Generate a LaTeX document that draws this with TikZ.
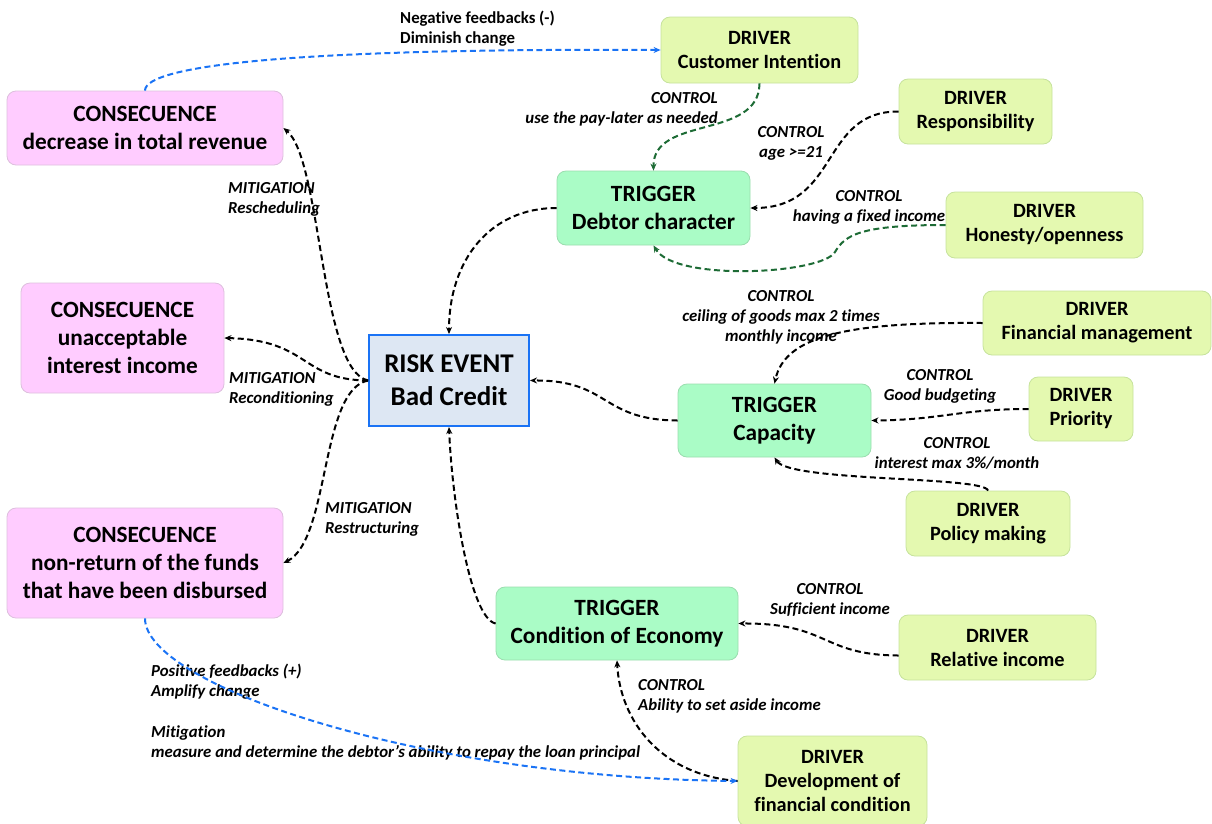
\documentclass[tikz,border=0pt]{standalone}
\usepackage{fontspec}
\setmainfont{Carlito}[Ligatures=NoCommon]
\usetikzlibrary{arrows.meta}

\definecolor{cnsfill}{HTML}{FFCCFF}
\definecolor{cnsline}{HTML}{DDBFDD}
\definecolor{trgfill}{HTML}{AAFCC6}
\definecolor{trgline}{HTML}{9ADDAE}
\definecolor{drvfill}{HTML}{E4F9B0}
\definecolor{drvline}{HTML}{C6E29C}
\definecolor{riskfill}{HTML}{DDE7F3}
\definecolor{riskline}{HTML}{1A73F5}
\definecolor{fbblue}{HTML}{1A73F5}
\definecolor{ctlgreen}{HTML}{1D6B35}

\begin{document}
\begin{tikzpicture}[x=1pt,y=-1pt]

      \tikzset{box/.style={draw, rounded corners=9pt, align=center, inner sep=2pt, line width=0.8pt, font=\bfseries\fontsize{20.3}{24}\selectfont},
               driver/.style={box, fill=drvfill, draw=drvline},
               trigger/.style={box, fill=trgfill, draw=trgline, font=\bfseries\fontsize{23.3}{28}\selectfont},
               conseq/.style={box, fill=cnsfill, draw=cnsline, font=\bfseries\fontsize{23.3}{28}\selectfont},
               riskbox/.style={draw=riskline, fill=riskfill, line width=2pt, align=center, font=\bfseries\fontsize{27}{33}\selectfont},
               note/.style={inner sep=0pt, font=\bfseries\itshape\fontsize{16.8}{20}\selectfont},
               flow/.style={line width=2pt, dash pattern=on 6pt off 3.5pt, -{Stealth[length=7pt,width=6pt]}}}
      \useasboundingbox (0,0) rectangle (1212,823);
%% Boxes
      	\node[riskbox, minimum width=160, minimum height=91] (risk) at (449,380.5) {RISK EVENT\\Bad Credit};
      	\node[conseq, minimum width=276, minimum height=74] (cns1) at (145,128) {CONSECUENCE\\decrease in total revenue};
      	\node[conseq, minimum width=203, minimum height=110] (cns2) at (122.5,338) {CONSECUENCE\\unacceptable\\interest income};
      	\node[conseq, minimum width=276, minimum height=110] (cns3) at (145,563) {CONSECUENCE\\non-return of the funds\\that have been disbursed};
      	\node[trigger, minimum width=193, minimum height=74] (dbt) at (653.5,208) {TRIGGER\\Debtor character};
      	\node[trigger, minimum width=193, minimum height=73] (cap) at (774.5,420.5) {TRIGGER\\Capacity};
      	\node[trigger, minimum width=242, minimum height=73] (econ) at (617,623.5) {TRIGGER\\Condition of Economy};
      	\node[driver, minimum width=197, minimum height=66] (ci) at (759.5,50) {DRIVER\\Customer Intention};
      	\node[driver, minimum width=153, minimum height=65] (resp) at (975.5,111.5) {DRIVER\\Responsibility};
      	\node[driver, minimum width=197, minimum height=66] (hon) at (1044.5,225) {DRIVER\\Honesty/openness};
      	\node[driver, minimum width=228, minimum height=64] (finm) at (1097,323) {DRIVER\\Financial management};
      	\node[driver, minimum width=104, minimum height=64] (prio) at (1081,409) {DRIVER\\Priority};
      	\node[driver, minimum width=164, minimum height=65] (pol) at (988,523.5) {DRIVER\\Policy making};
      	\node[driver, minimum width=197, minimum height=65] (rel) at (997.5,647.5) {DRIVER\\Relative income};
      	\node[driver, minimum width=189, minimum height=90] (dev) at (832.5,781) {DRIVER\\Development of\\financial condition};
%Labels
		\node[note, font=\bfseries\fontsize{16.8}{20}\selectfont, align=left, anchor=west] (negfb) at (400,29) {Negative feedbacks (-)\\Diminish change};
		\node[note, align=right, anchor=east] (c1) at (718,109) {CONTROL\\use the pay-later as needed};
		\node[note, align=center] (c2) at (791,143) {CONTROL\\age >=21};
		\node[note, align=center] (c3) at (869,207) {CONTROL\\having a fixed income};
		\node[note, align=center] (c4) at (781,317) {CONTROL\\ceiling of goods max 2 times\\monthly income};
		\node[note, align=center] (c5) at (940,386) {CONTROL\\Good budgeting};
		\node[note, align=center] (c6) at (957,453) {CONTROL\\interest max 3\%/month};
		\node[note, align=center] (c7) at (830,600) {CONTROL\\Sufficient income};
		\node[note, align=left, anchor=west] (c8) at (638,696) {CONTROL\\Ability to set aside income};
		\node[note, align=left, anchor=west] (m1) at (228,199) {MITIGATION\\Rescheduling};
		\node[note, align=left, anchor=west] (m2) at (229,389) {MITIGATION\\Reconditioning};
		\node[note, align=left, anchor=west] (m3) at (325,519) {MITIGATION\\Restructuring};
		\node[note, align=left, anchor=west] (posfb) at (151,682) {Positive feedbacks (+)\\Amplify change};
		\node[note, align=left, anchor=west] (mit) at (151,743) {Mitigation\\measure and determine the debtor's ability to repay the loan principal};
%Edges
		\draw[flow, draw=fbblue] (cns1.north) .. controls (145,65) and (300,48) .. (ci.west);
		\draw[flow, draw=ctlgreen] (ci.south) .. controls (759,140) and (653,115) .. (dbt.north);
		\draw[flow] (resp.west) .. controls (820,111) and (840,208) .. (dbt.east);
		\draw[flow, draw=ctlgreen] (hon.west) .. controls (860,225) and (845,235) .. (835,252) .. controls (822,274) and (675,282) .. (dbt.south);
		\draw[flow] (dbt.west) .. controls (490,208) and (449,260) .. (risk.north);
		\draw[flow] (risk.west) .. controls (320,370) and (322,160) .. (cns1.east);
		\draw[flow] (risk.west) .. controls (300,380) and (310,340) .. (cns2.east);
		\draw[flow] (risk.west) .. controls (320,390) and (330,540) .. (cns3.east);
		\draw[flow] (cap.west) .. controls (600,420) and (610,380) .. (risk.east);
		\draw[flow] (finm.west) .. controls (850,322) and (785,335) .. (cap.north);
		\draw[flow] (prio.west) .. controls (960,409) and (940,420) .. (cap.east);
		\draw[flow] (pol.north) .. controls (985,476) and (790,482) .. (cap.south);
		\draw[flow] (econ.west) .. controls (470,618) and (452,500) .. (risk.south);
		\draw[flow] ([yshift=-8pt]rel.west) .. controls (820,655) and (830,623) .. (econ.east);
		\draw[flow] (dev.west) .. controls (660,775) and (620,720) .. (econ.south);
		\draw[flow, draw=fbblue] (cns3.south) .. controls (145,685) and (420,778) .. (dev.west);

\end{tikzpicture}
\end{document}
